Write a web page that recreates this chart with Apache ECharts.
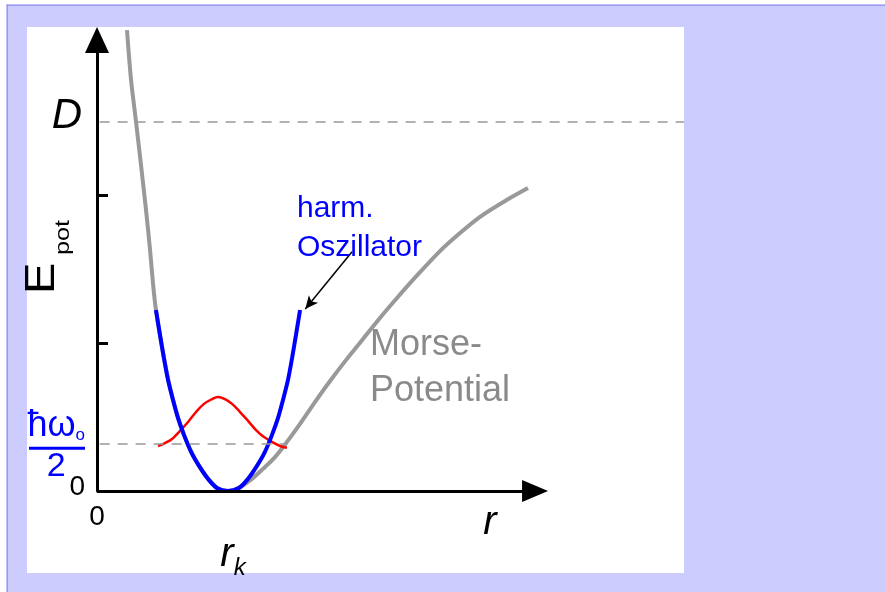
<!DOCTYPE html>
<html>
<head>
<meta charset="utf-8">
<script src="https://cdn.jsdelivr.net/npm/echarts@6/dist/echarts.min.js"></script>
<style>
html, body { margin: 0; padding: 0; background: #ffffff; }
#chart { width: 885px; height: 592px; }
</style>
</head>
<body>
<div id="chart"></div>
<script>
// Distances in units of the equilibrium distance r_k, energies in units of the well depth D.

// Morse potential
const morseR = [0.229, 0.260, 0.298, 0.336, 0.374, 0.405, 0.427, 0.450, 0.511, 0.580, 0.664, 0.779, 0.916, 1.000,
                1.092, 1.183, 1.267, 1.359, 1.450, 1.550, 1.664, 1.779, 1.908, 2.031, 2.160, 2.290, 2.412,
                2.618, 2.771, 2.924, 3.115, 3.290];
const morseE = [1.249, 1.114, 1.000, 0.883, 0.762, 0.653, 0.564, 0.4905, 0.360, 0.247, 0.152, 0.068, 0.008, 0.000,
                0.011, 0.033, 0.060, 0.092, 0.133, 0.182, 0.241, 0.298, 0.358, 0.412, 0.469, 0.523, 0.572,
                0.650, 0.699, 0.743, 0.786, 0.821];

// Harmonic oscillator
const oscR = [0.450, 0.481, 0.511, 0.542, 0.580, 0.618, 0.664, 0.718, 0.779, 0.847, 0.916, 1.000,
              1.084, 1.153, 1.221, 1.282, 1.336, 1.382, 1.420, 1.458, 1.489, 1.519, 1.550];
const oscE = [0.4905, 0.423, 0.360, 0.301, 0.247, 0.198, 0.152, 0.106, 0.068, 0.033, 0.008, 0.000,
              0.008, 0.033, 0.068, 0.106, 0.152, 0.198, 0.247, 0.301, 0.360, 0.423, 0.4905];

// Ground-state wave function, drawn on the zero-point level
const waveR = [0.466, 0.519, 0.573, 0.634, 0.695, 0.756, 0.817, 0.878, 0.924, 0.977, 1.031, 1.092,
               1.153, 1.214, 1.275, 1.336, 1.397, 1.450];
const waveE = [0.122, 0.130, 0.141, 0.163, 0.187, 0.214, 0.236, 0.249, 0.255, 0.249, 0.236, 0.214,
               0.190, 0.165, 0.146, 0.133, 0.122, 0.117];

// Levels, ticks and labels
const zeroPointLevel = 0.127;        // ħω0/2
const zeroPointLineEnd = 1.45;
const depthLevel = 1.0;              // D
const yTickValues = [0.4, 0.8];
const yLabelValues = [0, depthLevel];
const xLabelValues = [0, 1, 3];
const rMax = 4.481;
const eMax = 1.222;
const rAxisEnd = 3.344;
const pointerTail = [1.947, 0.648];
const pointerHead = [1.59, 0.493];

const FONT = '"Liberation Sans", Arial, sans-serif';
const BLUE = '#0000ff';
const GREY = '#999999';

const zip = (xs, ys) => xs.map((x, i) => [x, ys[i]]);

const chart = echarts.init(document.getElementById('chart'), null, { renderer: 'canvas' });

const baseYAxis = {
  type: 'value', min: 0, max: eMax,
  splitLine: { show: false }
};

chart.setOption({
  animation: false,
  backgroundColor: '#ccccff',
  graphic: [
    { type: 'rect', z: -20, shape: { x: 0, y: 0, width: 885, height: 4.5 }, style: { fill: '#ffffff' } },
    { type: 'rect', z: -20, shape: { x: 0, y: 0, width: 6.5, height: 592 }, style: { fill: '#ffffff' } },
    { type: 'rect', z: -19, shape: { x: 6.5, y: 4.5, width: 879, height: 1.5 }, style: { fill: '#9a9af2' } },
    { type: 'rect', z: -19, shape: { x: 6.5, y: 4.5, width: 1.5, height: 588 }, style: { fill: '#9a9af2' } },
    { type: 'rect', z: -18, shape: { x: 27, y: 27, width: 657, height: 546 }, style: { fill: '#ffffff' } },
    {
      // axis title E_pot, read bottom to top
      type: 'text', z: 50, x: 42, y: 294, rotation: Math.PI / 2, scaleX: 1.12,
      style: { text: 'E', fill: '#000', font: '42px ' + FONT, align: 'left', verticalAlign: 'middle' }
    },
    {
      type: 'text', z: 50, x: 63, y: 255, rotation: Math.PI / 2, scaleX: 1.2,
      style: { text: 'pot', fill: '#000', font: '21px ' + FONT, align: 'left', verticalAlign: 'middle' }
    },
    {
      type: 'text', z: 50, x: 297, y: 189,
      style: { text: 'harm.\nOszillator', fill: BLUE, font: '30px ' + FONT, lineHeight: 39 }
    },
    {
      type: 'text', z: 50, x: 370, y: 322,
      style: { text: 'Morse-\nPotential', fill: '#8a8a8a', font: '36px ' + FONT, lineHeight: 46 }
    }
  ],
  grid: { left: 97, top: 40, right: 201, bottom: 101, outerBoundsMode: 'none' },
  xAxis: {
    type: 'value', min: 0, max: rMax,
    axisLine: { show: false },
    axisTick: { show: false },
    splitLine: { show: false },
    axisLabel: {
      customValues: xLabelValues,
      showMinLabel: true,
      hideOverlap: false,
      margin: 12,
      formatter: v => v === 0 ? '{z|0}' : (v === 1 ? '{rk|r}{k|k}' : '{r|r}'),
      rich: {
        z: { fontSize: 28, fontFamily: FONT, color: '#000' },
        r: { fontSize: 40, fontStyle: 'italic', fontFamily: FONT, color: '#000' },
        rk: { fontSize: 40, fontStyle: 'italic', fontFamily: FONT, color: '#000', padding: [27, 0, 0, 10] },
        k: { fontSize: 24, fontStyle: 'italic', fontFamily: FONT, color: '#000', padding: [53, 0, 0, 0] }
      }
    }
  },
  yAxis: [
    Object.assign({}, baseYAxis, {
      axisLine: {
        show: true,
        symbol: ['none', 'triangle'],
        symbolSize: [24, 26],
        lineStyle: { color: '#000', width: 3 }
      },
      axisTick: {
        show: true, inside: true, length: 11,
        customValues: yTickValues,
        lineStyle: { color: '#000', width: 3 }
      },
      axisLabel: {
        customValues: yLabelValues,
        showMinLabel: true,
        hideOverlap: false,
        margin: 12,
        formatter: v => v === 0 ? '{z|0}' : '{d|D}',
        rich: {
          z: { fontSize: 28, fontFamily: FONT, color: '#000', padding: [0, 0, 7, 0] },
          d: { fontSize: 42, fontStyle: 'italic', fontFamily: FONT, color: '#000', padding: [0, 3, 12, 0] }
        }
      }
    }),
    Object.assign({}, baseYAxis, {
      // zero-point energy label ħω0/2
      position: 'left',
      axisLine: { show: false },
      axisTick: { show: false },
      axisLabel: {
        customValues: [zeroPointLevel],
        margin: 12,
        formatter: () => '{h|ħω}{s|o}\n{bar|}\n{two|2}',
        rich: {
          h: { fontSize: 36, fontFamily: FONT, color: BLUE, lineHeight: 36 },
          s: { fontSize: 17, fontFamily: FONT, color: BLUE, lineHeight: 36, verticalAlign: 'bottom' },
          bar: { width: 56, height: 3, backgroundColor: BLUE, lineHeight: 8, fontSize: 1 },
          two: { fontSize: 34, fontFamily: FONT, color: BLUE, align: 'center', lineHeight: 28 }
        }
      }
    })
  ],
  series: [
    {
      // r axis with arrow head
      type: 'line', z: 1, silent: true, showSymbol: false,
      data: [[0, 0]],
      markLine: {
        silent: true, animation: false,
        symbol: ['none', 'triangle'], symbolSize: [22, 26],
        label: { show: false },
        lineStyle: { color: '#000', width: 3, type: 'solid' },
        emphasis: { disabled: true },
        data: [[{ coord: [0, 0] }, { coord: [rAxisEnd, 0] }]]
      }
    },
    {
      // dashed guide levels
      type: 'line', z: 1, silent: true, showSymbol: false,
      data: [[0, depthLevel]],
      lineStyle: { opacity: 0 },
      markLine: {
        silent: true, animation: false,
        symbol: ['none', 'none'],
        label: { show: false },
        lineStyle: { color: GREY, width: 1.5, type: [10, 8] },
        emphasis: { disabled: true },
        data: [
          [{ coord: [0.02, depthLevel] }, { coord: [rMax, depthLevel] }],
          [{ coord: [0.02, zeroPointLevel] }, { coord: [zeroPointLineEnd, zeroPointLevel] }]
        ]
      }
    },
    {
      name: 'Morse-Potential', type: 'line', z: 2, silent: true, clip: false,
      data: zip(morseR, morseE), showSymbol: false, smooth: 0.3,
      lineStyle: { color: GREY, width: 4 }
    },
    {
      name: 'Wellenfunktion', type: 'line', z: 3, silent: true,
      data: zip(waveR, waveE), showSymbol: false, smooth: 0.4,
      lineStyle: { color: '#ff0000', width: 2.5 }
    },
    {
      name: 'harm. Oszillator', type: 'line', z: 4, silent: true,
      data: zip(oscR, oscE), showSymbol: false, smooth: 0.3,
      lineStyle: { color: BLUE, width: 4 }
    },
    {
      // pointer from the label to the oscillator curve
      type: 'line', z: 5, silent: true, showSymbol: false,
      data: [pointerTail],
      lineStyle: { opacity: 0 },
      markLine: {
        silent: true, animation: false,
        symbol: ['none', 'arrow'], symbolSize: [9, 13],
        label: { show: false },
        lineStyle: { color: '#000', width: 1.5, type: 'solid' },
        emphasis: { disabled: true },
        data: [[{ coord: pointerTail }, { coord: pointerHead }]]
      }
    }
  ]
});
</script>
</body>
</html>
